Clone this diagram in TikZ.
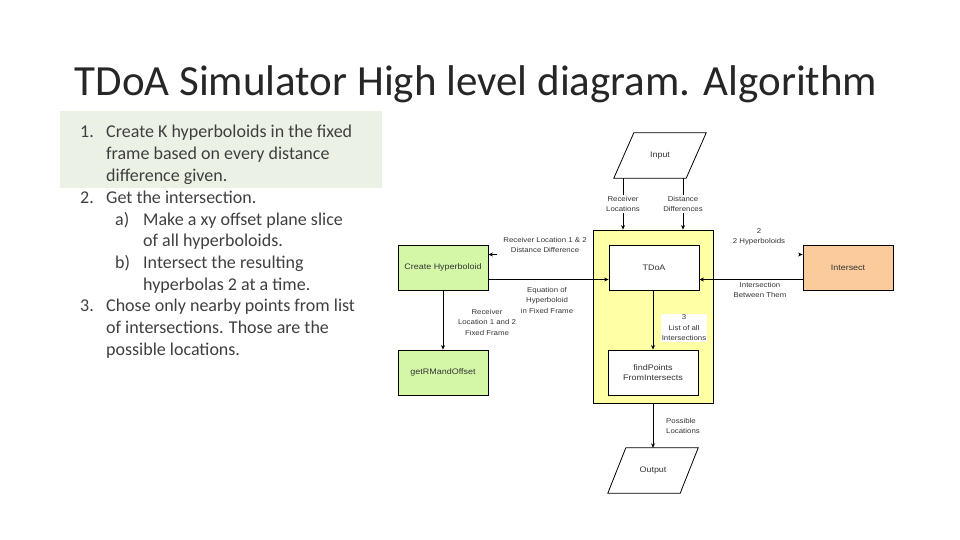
\documentclass[tikz,border=0pt]{standalone}
\usepackage{fontspec}
\setmainfont{Carlito}
\newfontfamily\diafont{Liberation Sans}[FakeStretch=1.12]
\usetikzlibrary{arrows.meta}

\begin{document}
\begin{tikzpicture}[x=1pt, y=-1pt,
    blk/.style = {
        draw=black, line width=0.8pt, minimum width=90pt, minimum height=45pt,
        inner sep=0pt, align=center, text=black!80,
        font=\diafont\fontsize{8}{10.5}\selectfont
    },
    io/.style = {
        minimum width=72pt, minimum height=45pt, inner sep=0pt,
        text=black!80, font=\diafont\fontsize{8}{10.5}\selectfont
    },
    lbl/.style = {
        align=center, inner sep=1pt, text=black!80,
        font=\diafont\fontsize{7}{10.5}\selectfont
    },
    arr/.style = {-{Stealth[length=4.5pt,width=4pt]}, line width=0.7pt},
    item/.style = {
        anchor=base west, inner sep=0pt, text=listgray,
        font=\fontsize{18}{21}\selectfont
    }
]
    % Colours
    \definecolor{listgray}{HTML}{3F3F3F}
    \definecolor{hilite}{HTML}{EBF1E5}
    \definecolor{tdoayellow}{HTML}{FFFFA6}
    \definecolor{hypgreen}{HTML}{D3F7A6}
    \definecolor{peach}{HTML}{FBCB9C}

    \useasboundingbox (0,0) rectangle (960,540);

    % Title
    \node[anchor=base, inner sep=0pt, text=black!85, font=\fontsize{43}{48}\selectfont]
        (title) at (476,96) {TDoA Simulator High level diagram. Algorithm};

    % Algorithm steps
    \fill[hilite] (60,111) rectangle (382,188);
    \node[item] (n1) at (80,138) {1.};
    \node[item] (l1) at (106,138) {Create K hyperboloids in the fixed};
    \node[item] (l2) at (106,160) {frame based on every distance};
    \node[item] (l3) at (106,181.5) {difference given.};
    \node[item] (n2) at (80,203) {2.};
    \node[item] (l4) at (106,203) {Get the intersection.};
    \node[item] (na) at (115,225) {a)};
    \node[item] (l5) at (143,225) {Make a xy offset plane slice};
    \node[item] (l6) at (143,246.5) {of all hyperboloids.};
    \node[item] (nb) at (115,268) {b)};
    \node[item] (l7) at (143,268) {Intersect the resulting};
    \node[item] (l8) at (143,290) {hyperbolas 2 at a time.};
    \node[item] (n3) at (80,311) {3.};
    \node[item] (l9) at (106,311) {Chose only nearby points from list};
    \node[item] (l10) at (106,333) {of intersections. Those are the};
    \node[item] (l11) at (106,355) {possible locations.};

    % Nodes
    \node[draw=black, line width=0.8pt, fill=tdoayellow, minimum width=120pt,
          minimum height=173pt] (ylw) at (653,316.5) {};
    \node[blk, fill=white] (tdoa) at (654,267.5) {TDoA};
    \node[blk, fill=white] (find) at (653,372.5) {findPoints\\FromIntersects};
    \node[blk, fill=hypgreen] (cre) at (443,267.5) {Create Hyperboloid};
    \node[blk, fill=hypgreen] (get) at (443,372.5) {getRMandOffset};
    \node[blk, fill=peach] (isec) at (848,267.5) {Intersect};
    \node[io] (inp) at (660,155.5) {Input};
    \node[io] (out) at (653,470.5) {Output};

    % parallelograms round the input and output
    \draw[line width=0.8pt] ([xshift=10pt]inp.north west) -- ([xshift=10pt]inp.north east)
        -- ([xshift=-10pt]inp.south east) -- ([xshift=-10pt]inp.south west) -- cycle;
    \draw[line width=0.8pt] ([xshift=9pt]out.north west) -- ([xshift=9pt]out.north east)
        -- ([xshift=-9pt]out.south east) -- ([xshift=-9pt]out.south west) -- cycle;

    % Connectors
    \draw[arr] ([xshift=-37pt]inp.south) -- ([xshift=-37pt]inp.south |- ylw.north);
    \draw[arr] ([xshift=23pt]inp.south) -- ([xshift=23pt]inp.south |- ylw.north);
    \draw[arr] ([yshift=-12pt]cre.east) -- ([yshift=-12pt]cre.east -| tdoa.west);
    \draw[arr] ([yshift=-12pt]isec.west) -- ([yshift=-12pt]isec.west -| tdoa.east);
    \draw[arr, shorten <=112pt] ([yshift=13pt]cre.east -| tdoa.west) -- ([yshift=13pt]cre.east);
    \draw[arr, shorten <=100pt] ([yshift=13pt]isec.west -| tdoa.east) -- ([yshift=13pt]isec.west);
    \draw[arr] (cre.south) -- (get.north);
    \draw[arr] ([xshift=-1pt]tdoa.south) -- ([xshift=-1pt]tdoa.south |- find.north);
    \draw[arr] (ylw.south) -- (out.north);

    % Labels
    \node[lbl, fill=white] (lrl) at (623,204) {Receiver\\Locations};
    \node[lbl, fill=white] (ldd) at (683,204) {Distance\\Differences};
    \node[lbl] (lrd) at (545,245) {Receiver Location 1 \& 2\\Distance Difference};
    \node[lbl] (leq) at (547,300) {Equation of\\Hyperboloid\\in Fixed Frame};
    \node[lbl] (lff) at (487,322) {Receiver\\Location 1 and 2\\Fixed Frame};
    \node[lbl, fill=white] (lls) at (684,328) {3\\List of all\\Intersections};
    \node[lbl] (lhy) at (759,237) {2\\2 Hyperboloids};
    \node[lbl] (lbt) at (760,290) {Intersection\\Between Them};
    \node[lbl, align=left] (lpl) at (683,426) {Possible\\Locations};
\end{tikzpicture}
\end{document}
